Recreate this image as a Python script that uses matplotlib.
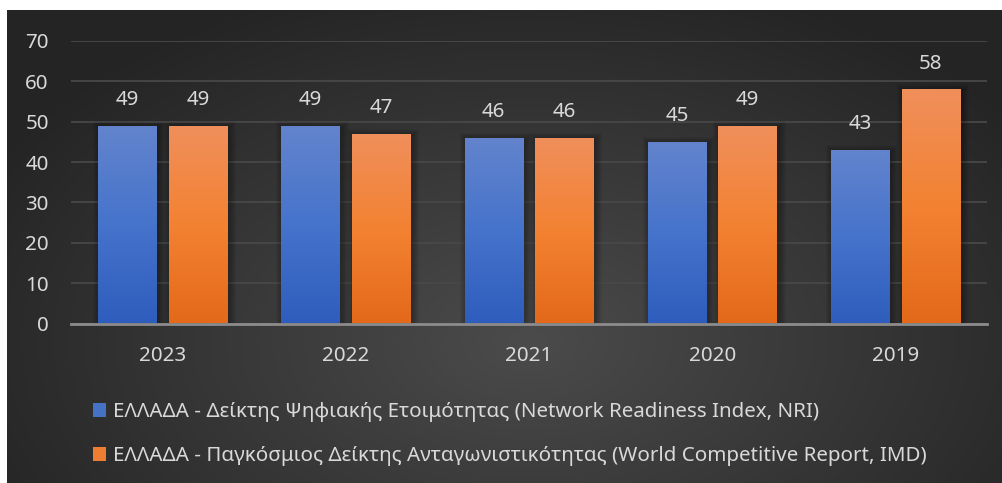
import matplotlib.pyplot as plt
import numpy as np
from matplotlib.colors import LinearSegmentedColormap
from matplotlib.patches import Rectangle

plt.rcParams['font.family'] = ['Noto Sans', 'DejaVu Sans']

years = ['2023', '2022', '2021', '2020', '2019']
nri = [49, 49, 46, 45, 43]
imd = [49, 47, 46, 49, 58]
labels = ['ΕΛΛΑΔΑ - Δείκτης Ψηφιακής Ετοιμότητας (Network Readiness Index, NRI)',
          'ΕΛΛΑΔΑ - Παγκόσμιος Δείκτης Ανταγωνιστικότητας (World Competitive Report, IMD)']

txt = '#d9d9d9'
fs = 14.8
blue_cm = LinearSegmentedColormap.from_list('b', ['#2e5dbd', '#4673cb', '#6384cd'])
orange_cm = LinearSegmentedColormap.from_list('o', ['#e4691a', '#f38232', '#f08f5c'])

W, H = 1003, 483
fig = plt.figure(figsize=(W / 100, H / 100), dpi=100, facecolor='white')

# dark radial background
bg = fig.add_axes([7 / W, 0, 996 / W, 473 / H])
bg.axis('off')
yy, xx = np.mgrid[0:473, 0:996]
r = np.sqrt(((xx - 520) / 620) ** 2 + ((yy - 330) / 380) ** 2)
shade = np.clip(0.295 - 0.155 * r, 0.145, 0.295)
bg.imshow(np.dstack([shade] * 3), aspect='auto', extent=[0, 1, 0, 1], origin='upper')
bg.set_xlim(0, 1)
bg.set_ylim(0, 1)

ax = fig.add_axes([71 / W, 1 - 323.5 / H, (987 - 71) / W, (323.5 - 41) / H])
ax.set_facecolor('none')
ax.set_xlim(-0.5, 4.5)
ax.set_ylim(0, 70)

x = np.arange(len(years))
w = 0.317
off = 0.1925

px_x = 5 / 916
px_y = 70 / 282.5
grad = np.linspace(0, 1, 256).reshape(-1, 1)

for xs, vals, cm in [(x - off, nri, blue_cm), (x + off, imd, orange_cm)]:
    bars = ax.bar(xs, vals, width=w, color='none', linewidth=0, zorder=3)
    for b in bars:
        bx, bw, bh = b.get_x(), b.get_width(), b.get_height()
        # soft shadow
        for k in range(1, 8):
            ax.add_patch(Rectangle((bx - k * px_x + 2 * px_x, 0),
                                   bw + 2 * k * px_x, bh + k * px_y - 2 * px_y,
                                   facecolor='black', alpha=0.045, linewidth=0, zorder=2))
        im = ax.imshow(grad, cmap=cm, aspect='auto', origin='lower',
                       extent=[bx, bx + bw, 0, bh], zorder=3)
        im.set_clip_path(b)
    for xi, v in zip(xs, vals):
        ax.annotate(str(v), (xi, v), xytext=(0, 18.5), textcoords='offset points',
                    ha='center', va='center', color=txt, fontsize=fs)

ax.set_yticks(range(0, 71, 10))
ax.grid(axis='y', color='#484848', linewidth=1.3, zorder=0)
ax.set_xticks(x)
ax.set_xticklabels(years)
ax.tick_params(axis='both', length=0, labelsize=fs, labelcolor=txt)
ax.tick_params(axis='y', pad=16)
ax.tick_params(axis='x', pad=16)
for s in ['top', 'right', 'left']:
    ax.spines[s].set_visible(False)
ax.spines['bottom'].set_color('#8c8c8c')
ax.spines['bottom'].set_linewidth(2)
ax.spines['bottom'].set_zorder(4)

handles = [Rectangle((0, 0), 1, 1, facecolor='#4472c4'),
           Rectangle((0, 0), 1, 1, facecolor='#ed7d31')]
leg = fig.legend(handles, labels, loc='upper left', bbox_to_anchor=(74 / W, 1 - 384 / H),
                 frameon=False, fontsize=fs, labelcolor=txt, handlelength=0.68,
                 handleheight=0.68, handletextpad=0.3, labelspacing=1.15)

fig.savefig('out.png', dpi=100, facecolor=fig.get_facecolor())
